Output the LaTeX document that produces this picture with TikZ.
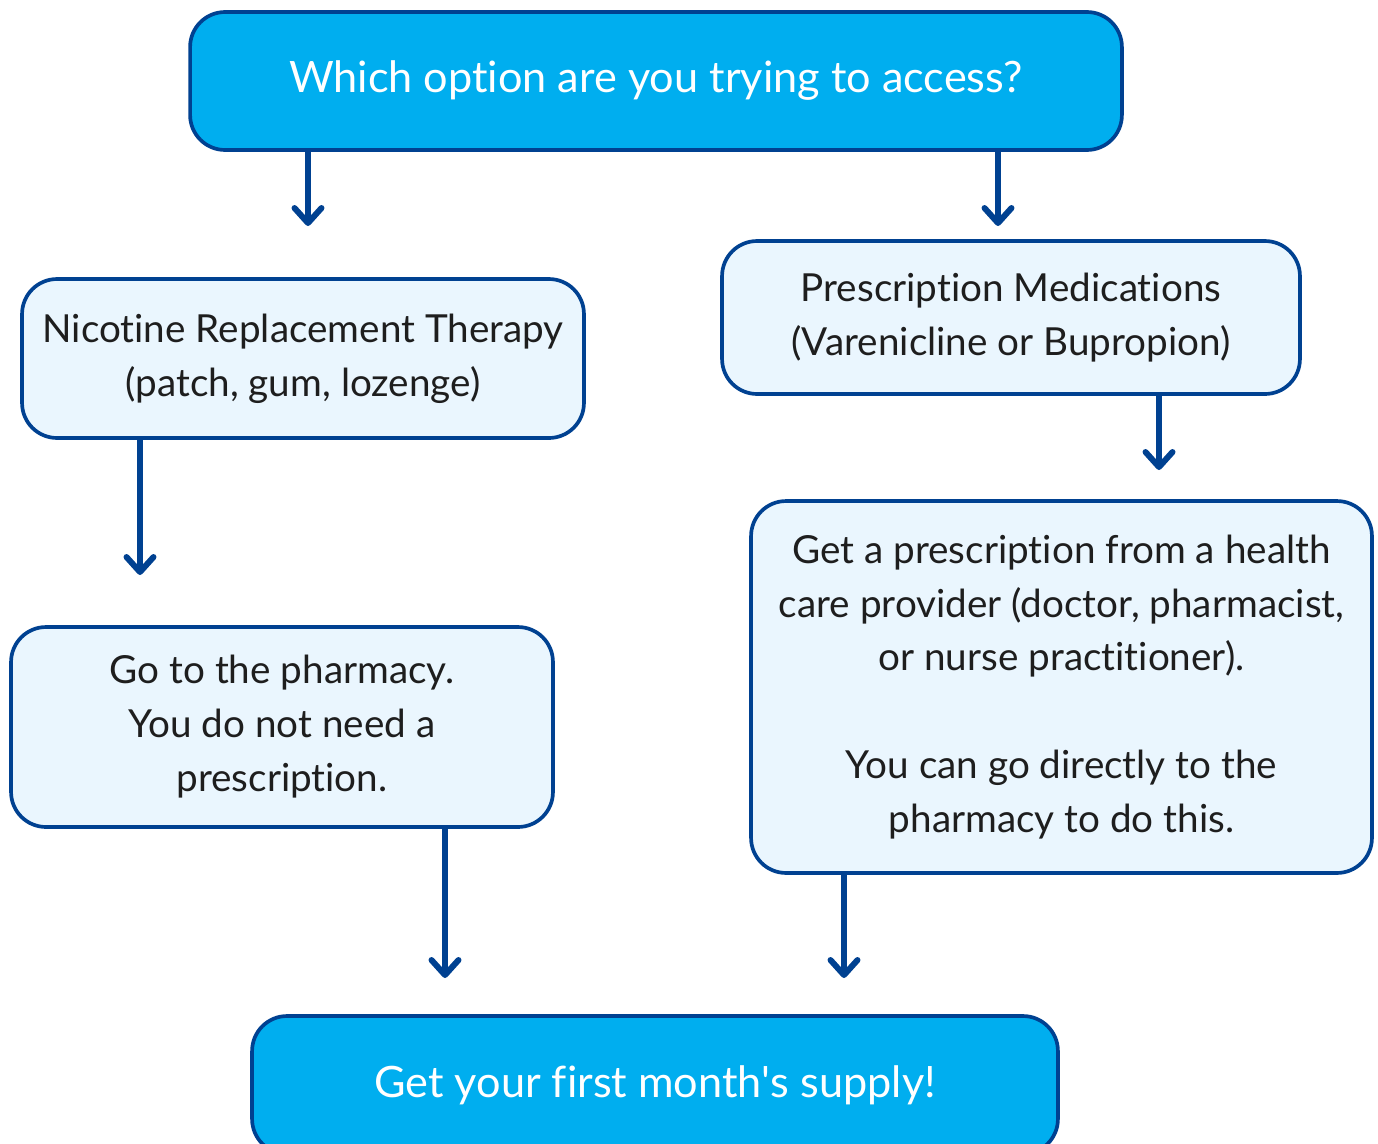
\documentclass[tikz,border=0pt]{standalone}
\usepackage{fontspec}
\setmainfont{Lato}[Ligatures={NoCommon,NoRare,NoContextual},Contextuals=NoAlternate]
\usetikzlibrary{arrows.meta}
\definecolor{edgeblue}{RGB}{0,65,145}
\definecolor{mainblue}{RGB}{0,174,239}
\definecolor{paleblue}{RGB}{234,246,254}
\definecolor{inkgray}{RGB}{30,30,30}
\tikzset{
  box/.style={draw=edgeblue,rounded corners=0.7cm,align=center,inner sep=0pt,
    font=\fontsize{22}{30.7}\selectfont},
  headbox/.style={box,fill=mainblue,text=white,font=\fontsize{24.6}{30.7}\selectfont},
  infobox/.style={box,fill=paleblue,text=inkgray},
  flow/.style={->,edgeblue,line cap=round,line width=3.4pt}
}
\begin{document}
\begin{tikzpicture}[x=0.02cm,y=-0.02cm,line width=2.1pt,
  >={Straight Barb[length=3mm,width=5.4mm,line join=round,line cap=round]}]
  \useasboundingbox (0,0) rectangle (1378,1143);
  % cajas
  \node[headbox,minimum width=18.64cm,minimum height=2.76cm] (q) at (656,81)
    {Which option are you trying to access?};
  \node[infobox,minimum width=11.24cm,minimum height=3.18cm] (nrt) at (303,358.5)
    {Nicotine Replacement Therapy\\(patch, gum, lozenge)};
  \node[infobox,minimum width=11.56cm,minimum height=3.06cm] (rx) at (1011,317.5)
    {Prescription Medications\\(Varenicline or Bupropion)};
  \node[infobox,minimum width=10.84cm,minimum height=4cm] (pharm) at (282,727)
    {Go to the pharmacy.\\You do not need a\\prescription.};
  \node[infobox,minimum width=12.42cm,minimum height=7.44cm] (getrx) at (1061.5,687)
    {Get a prescription from a health\\care provider (doctor, pharmacist,\\or nurse practitioner).\\[30.7pt]You can go directly to the\\pharmacy to do this.};
  \node[headbox,minimum width=16.12cm,minimum height=2.76cm] (supply) at (655,1085)
    {Get your first month\textquotesingle s supply!};
  % flechas
  \coordinate (e1) at (308,226);
  \coordinate (e2) at (998,226);
  \coordinate (e3) at (140,575);
  \coordinate (e4) at (1159,470);
  \coordinate (e5) at (445,978);
  \coordinate (e6) at (844,978);
  \draw[flow] (q.south -| e1)--(e1);
  \draw[flow] (q.south -| e2)--(e2);
  \draw[flow] (nrt.south -| e3)--(e3);
  \draw[flow] (rx.south -| e4)--(e4);
  \draw[flow] (pharm.south -| e5)--(e5);
  \draw[flow] (getrx.south -| e6)--(e6);
\end{tikzpicture}
\end{document}
